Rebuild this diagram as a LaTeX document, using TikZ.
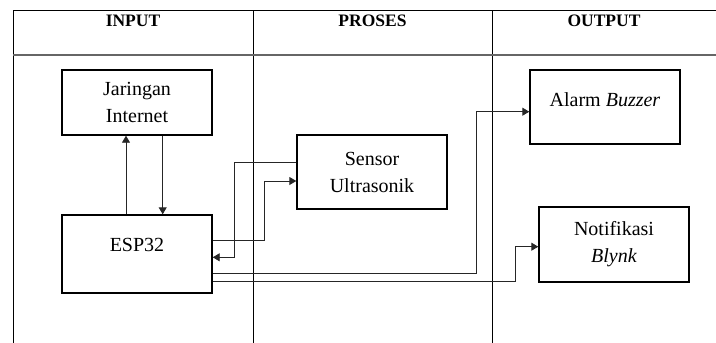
\documentclass[tikz,border=0pt]{standalone}
\usepackage{fontspec}
\setmainfont{Liberation Serif}
\usetikzlibrary{arrows.meta,calc}

\tikzset{
  blok/.style={draw=black,line width=1.4pt,minimum width=150pt,align=center,
    font=\fontsize{20}{27}\selectfont,inner sep=0pt},
  garis/.style={draw=black!85,line width=0.9pt},
  panah/.style={garis,-{Triangle[length=7pt,width=8pt]}},
  tabel/.style={draw=black,line width=0.8pt},
  judul/.style={font=\fontsize{17.5}{20}\selectfont\bfseries}
}

\begin{document}
\begin{tikzpicture}[x=1pt,y=-1pt]
\useasboundingbox (0,0) rectangle (716,343);

% tabel
\draw[tabel] (13,343) -- (13,10) -- (716,10);
\draw[tabel] (253,10) -- (253,343);
\draw[tabel] (492,10) -- (492,343);
\draw[draw=black!60,line width=1.6pt] (13,55) -- (716,55);

\node[judul] (hIn) at (133,21) {INPUT};
\node[judul] (hPr) at (372.5,21) {PROSES};
\node[judul] (hOut) at (604,21) {OUTPUT};

% blok
\node[blok,minimum height=65pt] (jar) at (137,102.5) {Jaringan\\Internet};
\node[blok,minimum height=78pt,text height=13.5pt,text depth=18pt] (esp) at (137,254) {ESP32};
\node[blok,minimum height=74pt] (sen) at (372,172) {Sensor\\Ultrasonik};
\node[blok,minimum height=74pt,text height=13.5pt,text depth=14pt] (alm) at (605,107) {Alarm \textit{Buzzer}};
\node[blok,minimum height=75pt] (ntf) at (614,244.5) {Notifikasi\\\textit{Blynk}};

% panah
\draw[panah] ([xshift=-11pt]esp.north) -- ([xshift=-11pt]jar.south);
\draw[panah] ([xshift=25.7pt]jar.south) -- ([xshift=25.7pt]esp.north);

\draw[panah] ([yshift=9.7pt]sen.west) -- ++(-62,0) |- ([yshift=-3.3pt]esp.east);
\draw[panah] ([yshift=13.3pt]esp.east) -- ++(51.3,0) |- ([yshift=-9pt]sen.west);

\draw[panah] ([yshift=-19.3pt]esp.east) -- ++(264,0) |- ([yshift=-4.7pt]alm.west);
\draw[panah] ([yshift=-27pt]esp.east) -- ++(303,0) |- ([yshift=-2.2pt]ntf.west);

\end{tikzpicture}
\end{document}
